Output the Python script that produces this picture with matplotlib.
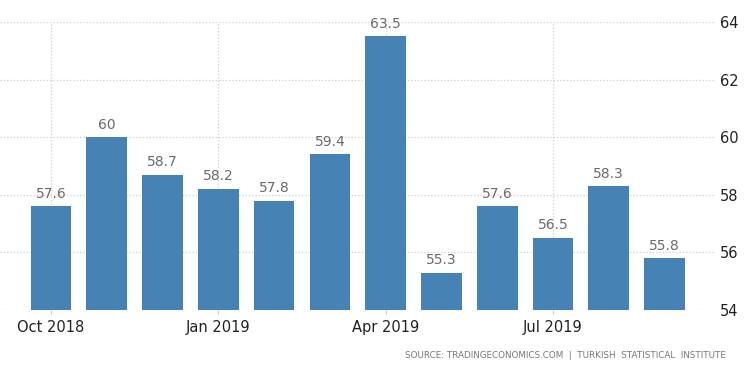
import numpy as np
import matplotlib
matplotlib.use('Agg')
import matplotlib.pyplot as plt

months = ['Oct 2018', 'Nov 2018', 'Dec 2018', 'Jan 2019', 'Feb 2019', 'Mar 2019',
          'Apr 2019', 'May 2019', 'Jun 2019', 'Jul 2019', 'Aug 2019', 'Sep 2019']
values = [57.6, 60, 58.7, 58.2, 57.8, 59.4, 63.5, 55.3, 57.6, 56.5, 58.3, 55.8]
value_labels = ['57.6', '60', '58.7', '58.2', '57.8', '59.4', '63.5', '55.3', '57.6', '56.5', '58.3', '55.8']
tick_idx = [0, 3, 6, 9]
y_ticks = [54, 56, 58, 60, 62, 64]

plt.rcParams['font.family'] = ['DejaVu Sans']

fig = plt.figure(figsize=(7.5, 3.73), dpi=100)
ax = fig.add_axes([0.0, 0.169, 0.953, 0.772])

x = np.arange(len(values))
ax.bar(x, np.array(values) - 54, bottom=54, width=0.73, color='#4682b4', zorder=3)

for xi, v, lab in zip(x, values, value_labels):
    ax.annotate(lab, (xi, v), xytext=(0, 4), textcoords='offset points',
                ha='center', va='bottom', fontsize=10, color='#6b6b6b')

ax.set_ylim(54, 64)
ax.set_xlim(-0.914, 11.9)
ax.yaxis.tick_right()
ax.set_yticks(y_ticks)
ax.set_xticks([x[i] for i in tick_idx])
ax.set_xticklabels([months[i] for i in tick_idx])
ax.tick_params(axis='y', length=0, pad=4, labelsize=10.5, labelcolor='#222222')
ax.tick_params(axis='x', length=3, color='#cccccc', pad=4, labelsize=10.5, labelcolor='#222222')

ax.grid(True, linestyle=':', color='#cfcfcf', linewidth=0.9, zorder=0)
for s in ax.spines.values():
    s.set_visible(False)

fig.text(0.968, 0.048, 'SOURCE: TRADINGECONOMICS.COM  |  TURKISH  STATISTICAL  INSTITUTE',
         ha='right', va='center', fontsize=6.3, color='#777777')

fig.savefig('out.png', dpi=100)
